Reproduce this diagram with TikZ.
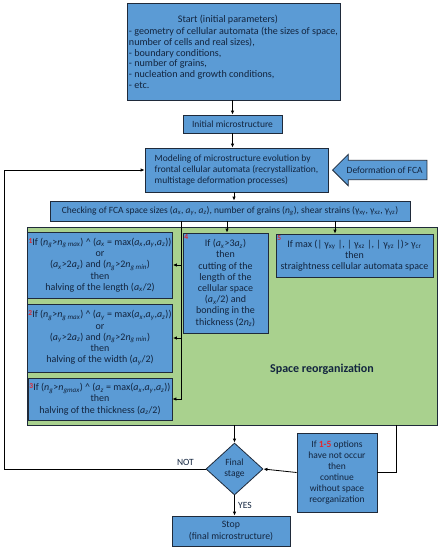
\documentclass[tikz,border=0pt]{standalone}
\usepackage{fontspec}
\setmainfont{Carlito}
\usepackage{xcolor}
\usepackage{tikz}
\usetikzlibrary{positioning,arrows.meta,shapes.geometric,shapes.arrows}
\definecolor{cblue}{HTML}{5B9BD5}
\definecolor{cgreen}{HTML}{A9D18E}
\definecolor{cedge}{HTML}{1F2A3A}
\definecolor{ctext}{HTML}{13253F}
\definecolor{cred}{HTML}{E3262D}
\newcommand{\iv}[2]{\textit{#1}\textsubscript{\textit{#2}}}
\newcommand{\gam}[1]{γ\textsubscript{#1}}
\newcommand{\numtag}[1]{\textcolor{cred}{\raisebox{2pt}{\bfseries\fontsize{7.5}{7.5}\selectfont #1}}}
\newcommand{\boxfont}{\fontsize{9.5}{11}\selectfont}
\newcommand{\optfont}{\fontsize{10}{11.2}\selectfont}
\tikzset{
  flowbox/.style={draw=cedge, fill=cblue, text=ctext, align=center,
    inner sep=2pt, font=\boxfont, line width=0.8pt},
  optbox/.style={flowbox, inner xsep=1pt, font=\optfont},
  reorgbox/.style={draw=cedge, fill=cgreen, line width=0.8pt},
  decision/.style={diamond, draw=cedge, fill=cblue, text=ctext, align=center,
    font=\boxfont, minimum width=57pt, minimum height=52pt, inner sep=0pt,
    aspect=1.1, line width=0.8pt},
  deformarrow/.style={single arrow, shape border rotate=180, draw=cedge,
    fill=cblue, text=ctext, font=\boxfont, single arrow head extend=6pt,
    inner xsep=4pt, inner ysep=6pt, line width=0.8pt},
  numlabel/.style={anchor=north west, inner sep=1.5pt, text=cred,
    font=\bfseries\fontsize{7.5}{7.5}\selectfont},
  flowarrow/.style={-{Latex[length=4pt,width=3.5pt]}, line width=0.8pt},
  flowline/.style={line width=0.8pt}
}
\begin{document}
\begin{tikzpicture}[x=1pt, y=-1pt]
  \useasboundingbox (0,0) rectangle (442,550);

  \node[flowbox, align=left, font=\fontsize{10.1}{10.7}\selectfont, minimum width=213pt, minimum height=97pt] (start) at (233.5,51.5)
    {\makebox[198pt]{Start (initial parameters)}\\[2pt]
     - geometry of cellular automata (the sizes of space,\\
     number of cells and real sizes),\\
     - boundary conditions,\\
     - number of grains,\\
     - nucleation and growth conditions,\\
     - etc.};
  \node[flowbox, minimum width=99pt, minimum height=18pt] (init) at (232.5,124) {Initial microstructure};
  \node[flowbox, align=left, minimum width=183pt, minimum height=44pt] (model) at (236.5,170)
    {Modeling of microstructure evolution by\\
     frontal cellular automata (recrystallization,\\
     multistage deformation processes)};
  \node[deformarrow, anchor=tip] (deform) at (332,170) {Deformation of FCA};
  \node[flowbox, minimum width=360pt, minimum height=20pt] (check) at (230,211)
    {Checking of FCA space sizes (\iv{a}{x}, \iv{a}{y}, \iv{a}{z}), number of grains (\iv{n}{g}), shear strains (\gam{xy}, \gam{xz}, \gam{yz})};

  % space reorganization block
  \node[reorgbox, minimum width=410pt, minimum height=198pt] (reorg) at (232,326) {};
  \node[font=\fontsize{12}{14}\selectfont\bfseries, text=ctext] (reorgtxt) at (322,369) {Space reorganization};

  \node[optbox, minimum width=144pt, minimum height=66pt] (opt1) at (100,265)
    {\numtag{1}If (\iv{n}{g}>\iv{n}{g max}) \textasciicircum{} (\iv{a}{x} = max(\iv{a}{x},\iv{a}{y},\iv{a}{z}))\\
     or\\
     (\iv{a}{x}>2\iv{a}{z}) and (\iv{n}{g}>2\iv{n}{g min})\\
     then\\
     halving of the length (\iv{a}{x}/2)};
  \node[optbox, minimum width=144pt, minimum height=68pt] (opt2) at (100,338)
    {\numtag{2}If (\iv{n}{g}>\iv{n}{g max}) \textasciicircum{} (\iv{a}{y} = max(\iv{a}{x},\iv{a}{y},\iv{a}{z}))\\
     or\\
     (\iv{a}{y}>2\iv{a}{z}) and (\iv{n}{g}>2\iv{n}{g min})\\
     then\\
     halving of the width (\iv{a}{y}/2)};
  \node[optbox, minimum width=144pt, minimum height=42pt] (opt3) at (100,399)
    {\numtag{3}If (\iv{n}{g}>\iv{n}{gmax}) \textasciicircum{} (\iv{a}{z} = max(\iv{a}{x},\iv{a}{y},\iv{a}{z}))\\
     then\\
     halving of the thickness (\iv{a}{z}/2)};
  \node[optbox, minimum width=85pt, minimum height=100pt, label={[numlabel]north west:4}] (opt4) at (225.5,283)
    {If (\iv{a}{x}>3\iv{a}{z})\\
     then\\
     cutting of the\\
     length of the\\
     cellular space\\
     (\iv{a}{x}/2) and\\
     bonding in the\\
     thickness (2\iv{n}{z})};
  \node[optbox, minimum width=157pt, minimum height=43pt, label={[numlabel]north west:5}] (opt5) at (354.5,255.5)
    {If max (| \gam{xy} |, | \gam{xz} |, | \gam{yz} |)> \gam{cr}\\
     then\\
     straightness cellular automata space};

  \node[decision] (final) at (234.5,469) {Final\\stage};
  \node[flowbox, minimum width=80pt, minimum height=79pt] (cont) at (337,472.5)
    {If \textcolor{cred}{\textbf{1-5}} options\\
     have not occur\\
     then\\
     continue\\
     without space\\
     reorganization};
  \node[flowbox, font=\fontsize{9.8}{11.5}\selectfont, minimum width=118pt, minimum height=30pt] (stop) at (231,531)
    {Stop\\(final microstructure)};

  \coordinate (bus) at (181,0);
  \coordinate (loopx) at (4,0);

  \draw[flowarrow] (init.north |- start.south) -- (init.north);
  \draw[flowarrow] (init.south) -- (init.south |- model.north);
  \draw[flowarrow] (234,0 |- model.south) -- (234,0 |- check.north);
  \draw[flowarrow] (check.south -| bus) |- (opt3.east);
  \draw[flowarrow] (opt1.east -| bus) -- (opt1.east);
  \draw[flowarrow] (opt2.east -| bus) -- (opt2.east);
  \draw[flowarrow] (227,0 |- check.south) -- (227,0 |- opt4.north);
  \draw[flowarrow] (335,0 |- check.south) -- (335,0 |- opt5.north);
  \draw[flowarrow] (final.north |- reorg.south) -- (final.north);
  \draw[flowline] (396,0 |- reorg.south) |- (cont.east);
  \draw[flowarrow] (cont.west) -- (final.east);
  \draw[flowarrow] (final.west) -- node[above, pos=0.1, font=\boxfont, text=ctext] {NOT}
    (final.west -| loopx) |- (model.west);
  \draw[flowarrow] (final.south) -- node[right, font=\boxfont, text=ctext] {YES}
    (final.south |- stop.north);
\end{tikzpicture}
\end{document}
